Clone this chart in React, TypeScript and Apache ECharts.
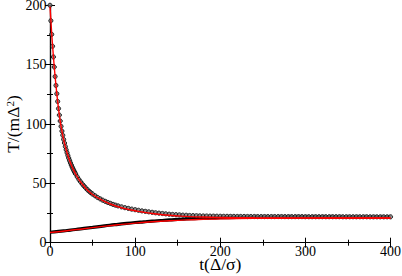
import React, { useEffect, useRef } from "react";
import * as echarts from "echarts";

// Upper curve: simulation points (t, T)
const upperDots: [number, number][] = [
  [0, 200], [1, 187], [2, 175.5], [3, 165.5], [4, 156.5], [5, 148], [6, 140], [7, 132.5], [8, 125.5], [9, 119],
  [10, 113], [11, 107.5], [12, 102.5], [13, 98], [14, 94], [15, 90.5], [16, 87], [17, 84], [18, 81], [19, 78.3],
  [20, 75.8], [21, 73.4], [22, 71.2], [23, 69.2], [24, 67.3], [25, 65.5], [26, 63.8], [27, 62.2], [28, 60.7], [29, 59.3],
  [30, 58], [32, 55.5], [34, 53.2], [36, 51.2], [38, 49.4], [40, 47.7], [42, 46.1], [44, 44.6], [46, 43.3], [48, 42.1],
  [50, 41], [53, 39.5], [56, 38.1], [59, 36.9], [62, 35.8], [65, 34.8], [68, 33.9], [71, 33.1], [74, 32.3], [77, 31.6],
  [80, 31], [84, 30.2], [88, 29.5], [92, 28.9], [96, 28.3], [100, 27.8], [104, 27.3], [108, 26.8], [112, 26.4], [116, 26],
  [120, 25.6], [124, 25.2], [128, 24.9], [132, 24.6], [136, 24.3], [140, 24], [144, 23.8], [148, 23.6], [152, 23.4], [156, 23.2],
  [160, 23.1], [164, 22.9], [168, 22.8], [172, 22.7], [176, 22.6], [180, 22.5], [184, 22.45], [188, 22.4], [192, 22.35], [196, 22.3],
  [200, 22.25], [204, 22.2], [208, 22.2], [212, 22.15], [216, 22.15], [220, 22.1], [224, 22.1], [228, 22.1], [232, 22.05], [236, 22.05],
  [240, 22.05], [244, 22], [248, 22], [252, 22], [256, 22], [260, 22], [264, 22], [268, 22], [272, 22], [276, 21.95],
  [280, 21.95], [284, 21.95], [288, 21.95], [292, 21.95], [296, 21.95], [300, 21.9], [304, 21.9], [308, 21.9], [312, 21.9], [316, 21.9],
  [320, 21.9], [324, 21.9], [328, 21.9], [332, 21.9], [336, 21.9], [340, 21.9], [344, 21.85], [348, 21.85], [352, 21.85], [356, 21.85],
  [360, 21.85], [364, 21.85], [368, 21.85], [372, 21.85], [376, 21.8], [380, 21.8], [384, 21.8], [388, 21.8], [392, 21.8], [396, 21.8],
  [400, 21.8],
];

// Upper curve: fitted (red) line
const upperFit: [number, number][] = [
  [0, 199], [2, 176], [4, 157], [6, 140], [8, 125.5], [10, 113], [12, 102.5], [14, 94], [16, 87], [18, 81],
  [20, 75.8], [23, 69.2], [26, 63.8], [30, 58], [35, 52], [40, 47.5], [45, 43.6], [50, 40.6], [60, 36.2], [70, 32.8],
  [80, 30.3], [90, 28.4], [100, 26.9], [110, 25.6], [120, 24.6], [140, 23.1], [160, 22.2], [180, 21.6], [200, 21.3],
  [240, 21], [300, 20.9], [350, 20.8], [400, 20.8],
];

// Lower curve: simulation (black)
const lowerSim: [number, number][] = [
  [0, 8.8], [10, 9.5], [20, 10.3], [30, 11.1], [40, 12], [50, 12.9], [60, 13.8], [70, 14.7], [80, 15.5], [90, 16.3],
  [100, 17], [110, 17.6], [120, 18.2], [130, 18.7], [140, 19.2], [150, 19.6], [160, 20], [170, 20.3], [180, 20.6], [190, 20.8],
  [200, 21], [220, 21.3], [240, 21.5], [260, 21.6], [280, 21.7], [300, 21.7], [330, 21.7], [360, 21.6], [400, 21.6],
];

// Lower curve: fitted (red) line
const lowerFit: [number, number][] = [
  [0, 8.6], [20, 10.1], [40, 11.8], [60, 13.5], [80, 15.1], [100, 16.5], [120, 17.6], [140, 18.5], [160, 19.2],
  [180, 19.7], [200, 20.1], [240, 20.5], [300, 20.7], [350, 20.8], [400, 20.8],
];

const xTicks = { min: 0, max: 400, interval: 100 };
const yTicks = { min: 0, max: 200, interval: 50 };

const FONT = "Liberation Serif";

export default function App() {
  const ref = useRef<HTMLDivElement>(null);
  useEffect(() => {
    if (!ref.current) return;
    const chart = echarts.init(ref.current, null, { renderer: "svg" });
    const axisLine = { show: true, lineStyle: { color: "#000", width: 1.2 } };
    const tick = { show: true, inside: true, length: 5, lineStyle: { color: "#000", width: 1 } };
    const minor = { show: true, splitNumber: 2, length: 3, lineStyle: { color: "#000", width: 1 } };
    chart.setOption({
      animation: false,
      backgroundColor: "#fff",
      grid: { left: 50, right: 11.5, top: 5.3, bottom: 33.3, outerBoundsMode: "none" },
      xAxis: [
        {
          type: "value", ...xTicks, position: "bottom",
          axisLine, axisTick: tick, minorTick: minor, splitLine: { show: false },
          axisLabel: { color: "#000", fontFamily: FONT, fontSize: 14, margin: 2, lineHeight: 14 },
          name: "t(Δ/σ)", nameLocation: "middle", nameGap: 12.5, nameMoveOverlap: false,
          nameTextStyle: { color: "#000", fontFamily: FONT, fontSize: 17.5, verticalAlign: "top", lineHeight: 18 },
        },
        {
          type: "value", ...xTicks, position: "top",
          axisLine, axisTick: tick, minorTick: minor, splitLine: { show: false },
          axisLabel: { show: false },
        },
      ],
      yAxis: [
        {
          type: "value", ...yTicks, position: "left",
          axisLine, axisTick: tick, minorTick: minor, splitLine: { show: false },
          axisLabel: { color: "#000", fontFamily: FONT, fontSize: 14, margin: 3.5 },
          name: "{a|T/(mΔ}{s|2}{a|)}", nameLocation: "middle", nameGap: 28, nameMoveOverlap: false,
          nameTextStyle: {
            color: "#000", fontFamily: FONT, fontSize: 17.5,
            rich: {
              a: { color: "#000", fontFamily: FONT, fontSize: 17.5 },
              s: { color: "#000", fontFamily: FONT, fontSize: 11, verticalAlign: "top" },
            },
          },
        },
        {
          type: "value", ...yTicks, position: "right",
          axisLine, axisTick: tick, minorTick: minor, splitLine: { show: false },
          axisLabel: { show: false },
        },
      ],
      series: [
        {
          type: "line", data: lowerSim, showSymbol: false, smooth: true,
          lineStyle: { color: "#000", width: 3.2 }, z: 2,
        },
        {
          type: "scatter", data: upperDots, symbol: "circle", symbolSize: 4.2, clip: false,
          itemStyle: { color: "#777", borderColor: "#000", borderWidth: 1 }, z: 3,
        },
        {
          type: "line", data: upperFit, showSymbol: false, smooth: true,
          lineStyle: { color: "#ff0000", width: 1.4 }, z: 4,
        },
        {
          type: "line", data: lowerFit, showSymbol: false, smooth: true,
          lineStyle: { color: "#ff0000", width: 1.4 }, z: 4,
        },
      ],
    });
    return () => chart.dispose();
  }, []);
  return (
    <div
      ref={ref}
      style={{ position: "fixed", left: 0, top: 0, width: 402, height: 276, background: "#fff" }}
    />
  );
}
